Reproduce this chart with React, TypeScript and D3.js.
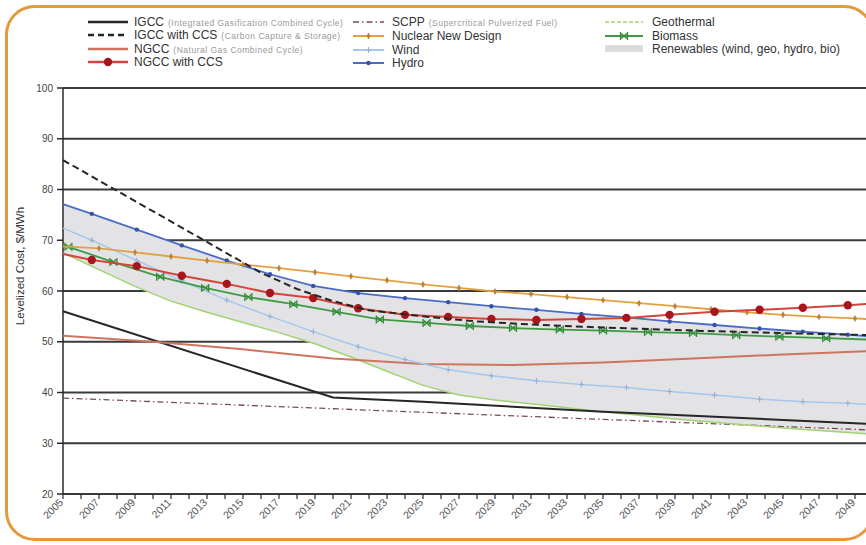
import React from 'react';
import * as d3 from 'd3';

// Axis ticks
const tickYears = [2005, 2007, 2009, 2011, 2013, 2015, 2017, 2019, 2021, 2023, 2025, 2027, 2029, 2031, 2033, 2035, 2037, 2039, 2041, 2043, 2045, 2047, 2049];
const costTicks = [20, 30, 40, 50, 60, 70, 80, 90, 100];

// Fossil technologies ($/MWh)
const igccYears = [2005, 2020, 2025, 2030, 2035, 2040, 2045, 2050];
const igccCost = [56.0, 39.0, 38.2, 37.2, 36.2, 35.4, 34.6, 33.8];

const igccCcsYears = [2005, 2016, 2018, 2020, 2022, 2025, 2028, 2031, 2035, 2040, 2045, 2050];
const igccCcsCost = [85.8, 63.6, 60.4, 58.0, 56.2, 55.0, 54.0, 53.4, 52.8, 52.2, 51.7, 51.3];

const ngccYears = [2005, 2010, 2015, 2020, 2025, 2030, 2035, 2040, 2045, 2050];
const ngccCost = [51.2, 50.0, 48.5, 46.7, 45.6, 45.4, 45.9, 46.7, 47.5, 48.2];

const stepYears = [2005, 2006.6, 2009.1, 2011.6, 2014.1, 2016.5, 2018.9, 2021.4, 2024.0, 2026.4, 2028.8, 2031.3, 2033.8, 2036.3, 2038.7, 2041.2, 2043.7, 2046.1, 2048.6, 2050];
const ngccCcsCost = [67.3, 66.1, 64.9, 63.0, 61.4, 59.6, 58.6, 56.6, 55.3, 54.9, 54.5, 54.3, 54.5, 54.7, 55.3, 55.9, 56.3, 56.7, 57.2, 57.5];

const scppYears = [2005, 2020, 2035, 2050];
const scppCost = [38.9, 36.8, 34.7, 32.6];

const nuclearYears = [2005, 2007, 2009, 2011, 2013, 2015, 2017, 2019, 2021, 2023, 2025, 2027, 2029, 2031, 2033, 2035, 2037, 2039, 2041, 2043, 2045, 2047, 2049, 2050];
const nuclearCost = [68.8, 68.4, 67.6, 66.8, 66.0, 65.2, 64.5, 63.7, 62.9, 62.1, 61.3, 60.6, 59.9, 59.4, 58.8, 58.2, 57.6, 57.0, 56.4, 55.8, 55.3, 54.9, 54.6, 54.4];

// Renewables
const windCost = [72.4, 70.0, 66.0, 62.0, 58.2, 55.0, 52.0, 49.0, 46.5, 44.5, 43.3, 42.3, 41.6, 41.0, 40.2, 39.5, 38.7, 38.2, 37.9, 37.6];
const hydroCost = [77.1, 75.2, 72.1, 69.0, 66.0, 63.3, 61.0, 59.6, 58.6, 57.8, 57.0, 56.3, 55.5, 54.8, 54.0, 53.3, 52.6, 52.0, 51.4, 51.0];

const geoYears = [2005, 2007, 2009, 2011, 2013, 2015, 2017, 2019, 2021, 2023, 2025, 2027, 2029, 2031, 2033, 2035, 2037, 2039, 2041, 2043, 2045, 2047, 2049, 2050];
const geoCost = [67.5, 64.2, 60.9, 58.0, 55.8, 53.8, 51.8, 49.6, 47.0, 44.2, 41.4, 39.5, 38.5, 37.8, 37.0, 36.2, 35.5, 34.8, 34.2, 33.6, 33.0, 32.5, 32.0, 31.8];

const bioYears = [2005, 2005.3, 2007.8, 2010.4, 2012.9, 2015.3, 2017.8, 2020.2, 2022.6, 2025.2, 2027.6, 2030.0, 2032.6, 2035.0, 2037.5, 2040.0, 2042.4, 2044.8, 2047.4, 2050];
const bioCost = [69.2, 68.7, 65.7, 62.8, 60.6, 58.8, 57.4, 55.9, 54.4, 53.7, 53.1, 52.7, 52.4, 52.2, 51.9, 51.7, 51.3, 51.0, 50.7, 50.4];

const FONT = '"Liberation Sans", Arial, sans-serif';

type MarkerKind = 'circle' | 'diamond' | 'plus' | 'dot' | 'boxx' | 'none';

function Marker({ kind, cx, cy, color }: { kind: MarkerKind; cx: number; cy: number; color: string }) {
  if (kind === 'circle') return <circle cx={cx} cy={cy} r={4.2} fill={color} />;
  if (kind === 'dot') return <circle cx={cx} cy={cy} r={2.2} fill={color} />;
  if (kind === 'diamond')
    return <path transform={`translate(${cx},${cy})`} d={d3.symbol(d3.symbolDiamond, 14)() || ''} fill={color} />;
  if (kind === 'plus')
    return <path transform={`translate(${cx},${cy})`} d="M-2.5,0H2.5M0,-3V3" stroke={color} strokeWidth={1} fill="none" />;
  if (kind === 'boxx')
    return (
      <path
        transform={`translate(${cx},${cy})`}
        d="M-2.5,-2.5L2.5,2.5M-2.5,2.5L2.5,-2.5M-3.5,-4V4M3.5,-4V4"
        stroke={color}
        strokeWidth={1.3}
        fill="none"
      />
    );
  return null;
}

function interp(ys: number[], vs: number[], t: number): number {
  if (t <= ys[0]) return vs[0];
  for (let i = 0; i < ys.length - 1; i++) {
    if (t <= ys[i + 1]) {
      const f = (t - ys[i]) / (ys[i + 1] - ys[i]);
      return vs[i] + f * (vs[i + 1] - vs[i]);
    }
  }
  return vs[vs.length - 1];
}

export default function App() {
  const x = d3.scaleLinear().domain([2005, 2050]).range([63, 873]);
  const y = d3.scaleLinear().domain([20, 100]).range([494, 88]);

  const path = (years: number[], vals: number[]) =>
    d3
      .line<number>()
      .x((_, i) => x(years[i]))
      .y((d) => y(d))(vals) || '';

  // Renewables envelope: min/max of wind, geothermal, hydro and biomass
  const renewables: [number[], number[]][] = [
    [stepYears, windCost],
    [geoYears, geoCost],
    [stepYears, hydroCost],
    [bioYears, bioCost],
  ];
  const gridYears = Array.from(new Set(renewables.flatMap((r) => r[0]))).sort((a, b) => a - b);
  const band = gridYears.map((t) => {
    const vals = renewables.map(([ys, vs]) => interp(ys, vs, t));
    return { t, lo: d3.min(vals) as number, hi: d3.max(vals) as number };
  });
  const bandPath =
    d3
      .area<{ t: number; lo: number; hi: number }>()
      .x((d) => x(d.t))
      .y0((d) => y(d.lo))
      .y1((d) => y(d.hi))(band) || '';

  const series = [
    { key: 'scpp', years: scppYears, vals: scppCost, color: '#7d4a5a', width: 1.3, dash: '6,3,1.5,3', marker: 'none' as MarkerKind, mcolor: '' },
    { key: 'geo', years: geoYears, vals: geoCost, color: '#a3d273', width: 1.5, dash: undefined, marker: 'none' as MarkerKind, mcolor: '' },
    { key: 'igcc', years: igccYears, vals: igccCost, color: '#262626', width: 2, dash: undefined, marker: 'none' as MarkerKind, mcolor: '' },
    { key: 'ngcc', years: ngccYears, vals: ngccCost, color: '#cc7660', width: 2, dash: undefined, marker: 'none' as MarkerKind, mcolor: '' },
    { key: 'wind', years: stepYears, vals: windCost, color: '#a7c7ec', width: 1.5, dash: undefined, marker: 'plus' as MarkerKind, mcolor: '#8fb0da' },
    { key: 'bio', years: bioYears, vals: bioCost, color: '#3f9a45', width: 1.8, dash: undefined, marker: 'boxx' as MarkerKind, mcolor: '#2f8a36' },
    { key: 'hydro', years: stepYears, vals: hydroCost, color: '#4a6cc4', width: 1.8, dash: undefined, marker: 'dot' as MarkerKind, mcolor: '#3553a8' },
    { key: 'nuclear', years: nuclearYears, vals: nuclearCost, color: '#e2a040', width: 1.8, dash: undefined, marker: 'diamond' as MarkerKind, mcolor: '#b8843a' },
    { key: 'ngccccs', years: stepYears, vals: ngccCcsCost, color: '#d2453a', width: 2, dash: undefined, marker: 'circle' as MarkerKind, mcolor: '#a8161b' },
    { key: 'igccccs', years: igccCcsYears, vals: igccCcsCost, color: '#262626', width: 2, dash: '7,4', marker: 'none' as MarkerKind, mcolor: '' },
  ];

  type Entry = { col: number; y: number; label: string; sub?: string; color: string; width: number; dash?: string; marker: MarkerKind; mcolor: string; patch?: boolean };
  const legendCols = [
    { x0: 88, x1: 128, tx: 134 },
    { x0: 353, x1: 384, tx: 392 },
    { x0: 605, x1: 643, tx: 652 },
  ];
  const legend: Entry[] = [
    { col: 0, y: 22, label: 'IGCC', sub: '(Integrated Gasification Combined Cycle)', color: '#262626', width: 2.5, marker: 'none', mcolor: '' },
    { col: 0, y: 35, label: 'IGCC with CCS', sub: '(Carbon Capture & Storage)', color: '#262626', width: 2.5, dash: '6,4', marker: 'none', mcolor: '' },
    { col: 0, y: 49, label: 'NGCC', sub: '(Natural Gas Combined Cycle)', color: '#cc7660', width: 2.5, marker: 'none', mcolor: '' },
    { col: 0, y: 62, label: 'NGCC with CCS', color: '#d2453a', width: 2.5, marker: 'circle', mcolor: '#a8161b' },
    { col: 1, y: 22, label: 'SCPP', sub: '(Supercritical Pulverized Fuel)', color: '#7d4a5a', width: 1.5, dash: '6,3,1.5,3', marker: 'none', mcolor: '' },
    { col: 1, y: 36, label: 'Nuclear New Design', color: '#e2a040', width: 2, marker: 'diamond', mcolor: '#b8843a' },
    { col: 1, y: 50, label: 'Wind', color: '#a7c7ec', width: 2, marker: 'plus', mcolor: '#8fb0da' },
    { col: 1, y: 63, label: 'Hydro', color: '#4a6cc4', width: 2, marker: 'dot', mcolor: '#3553a8' },
    { col: 2, y: 22, label: 'Geothermal', color: '#a3d273', width: 1.5, dash: '4,2', marker: 'none', mcolor: '' },
    { col: 2, y: 36, label: 'Biomass', color: '#3f9a45', width: 2, marker: 'boxx', mcolor: '#2f8a36' },
    { col: 2, y: 49, label: 'Renewables (wind, geo, hydro, bio)', color: '#dcdcde', width: 0, marker: 'none', mcolor: '', patch: true },
  ];

  const yearMinor = d3.range(2005, 2051);

  return (
    <div style={{ position: 'absolute', left: 0, top: 0 }}>
      <svg width={866} height={545} style={{ display: 'block', background: '#fff' }} fontFamily={FONT}>
        <rect x={6.5} y={6.5} width={866} height={533} rx={28} ry={28} fill="#fff" stroke="#e29a3c" strokeWidth={3} />

        {/* horizontal gridlines */}
        {costTicks.map((v) => (
          <line key={v} x1={63} x2={873} y1={y(v)} y2={y(v)} stroke="#3a3a3a" strokeWidth={2} />
        ))}

        {/* renewables envelope */}
        <path d={bandPath} fill="#e3e3e5" stroke="none" />

        {/* axes */}
        <line x1={63} x2={63} y1={y(100)} y2={y(20)} stroke="#2a2a2a" strokeWidth={1.5} />
        {costTicks.map((v) => (
          <g key={v}>
            <line x1={57} x2={63} y1={y(v)} y2={y(v)} stroke="#2a2a2a" strokeWidth={1.5} />
            <text x={53} y={y(v) + 3.5} textAnchor="end" fontSize={10} fill="#444">
              {v}
            </text>
          </g>
        ))}
        {yearMinor.map((yr) => (
          <line key={yr} x1={x(yr)} x2={x(yr)} y1={y(20)} y2={y(20) + 5} stroke="#2a2a2a" strokeWidth={1.2} />
        ))}
        {tickYears.map((yr) => (
          <text key={yr} transform={`translate(${x(yr) + 1},${y(20) + 9}) rotate(-45)`} textAnchor="end" fontSize={10.5} fill="#555">
            {yr}
          </text>
        ))}
        <text transform={`translate(24,266) rotate(-90)`} textAnchor="middle" fontSize={11.5} fill="#333">
          Levelized Cost, $/MWh
        </text>

        {/* series */}
        {series.map((s) => (
          <g key={s.key}>
            <path d={path(s.years, s.vals)} fill="none" stroke={s.color} strokeWidth={s.width} strokeDasharray={s.dash} />
            {s.marker !== 'none' &&
              s.years.slice(1, -1).map((yr, i) => (
                <Marker key={i} kind={s.marker} cx={x(yr)} cy={y(s.vals[i + 1])} color={s.mcolor} />
              ))}
          </g>
        ))}

        {/* legend */}
        {legend.map((e) => {
          const c = legendCols[e.col];
          return (
            <g key={e.label}>
              {e.patch ? (
                <rect x={c.x0} y={e.y - 4} width={c.x1 - c.x0} height={7} fill={e.color} />
              ) : (
                <line x1={c.x0} x2={c.x1} y1={e.y} y2={e.y} stroke={e.color} strokeWidth={e.width} strokeDasharray={e.dash} />
              )}
              {e.marker !== 'none' && <Marker kind={e.marker} cx={(c.x0 + c.x1) / 2} cy={e.y} color={e.mcolor} />}
              <text x={c.tx} y={e.y + 4} fontSize={12} fill="#333">
                {e.label}
                {e.sub && (
                  <tspan dx={4} fontSize={8.5} letterSpacing={0.5} fill="#999">
                    {e.sub}
                  </tspan>
                )}
              </text>
            </g>
          );
        })}
      </svg>
    </div>
  );
}
